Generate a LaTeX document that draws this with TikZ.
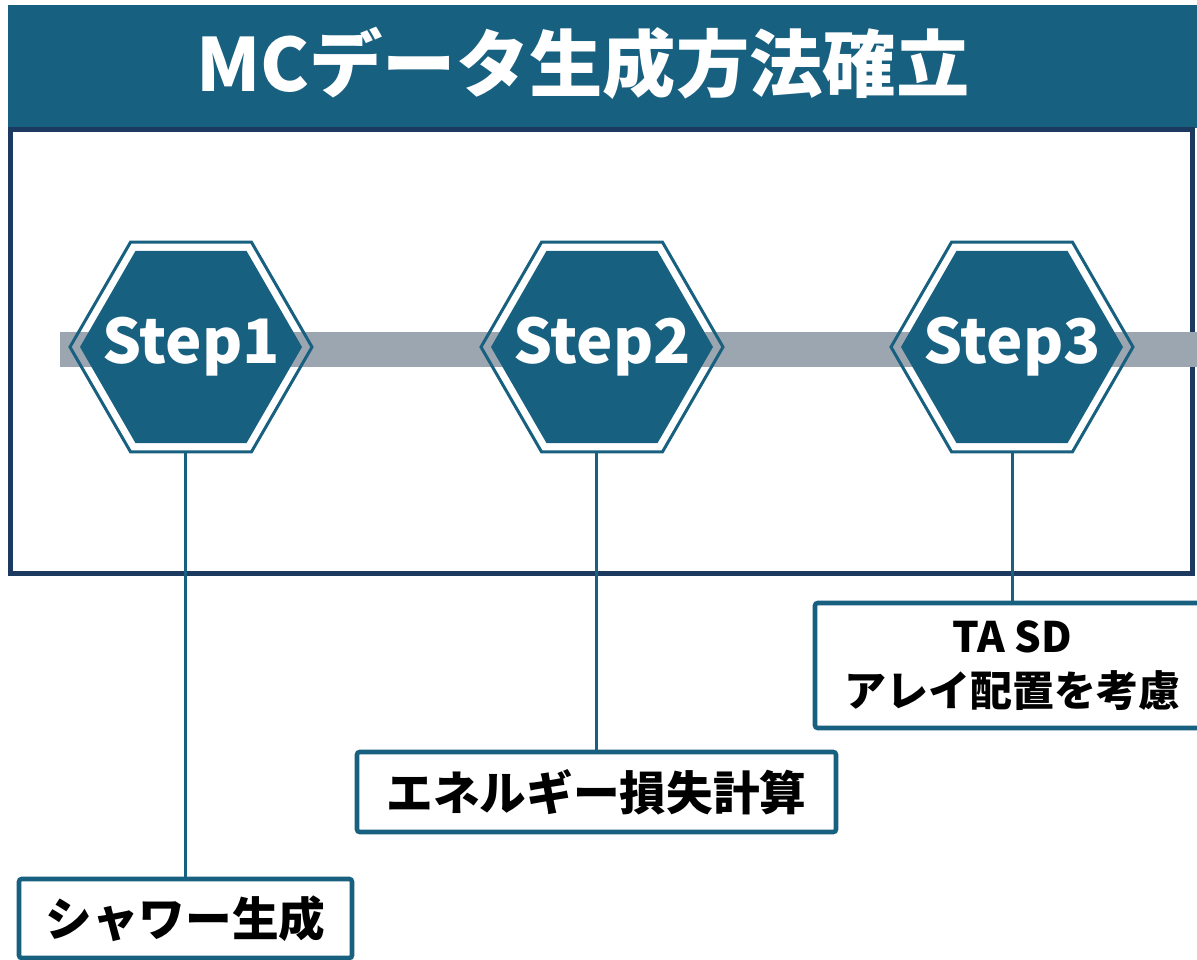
\documentclass[tikz,border=0pt]{standalone}
\usepackage{fontspec}
\setmainfont{Noto Sans CJK JP}
\usetikzlibrary{shapes.geometric}
\definecolor{teal1}{RGB}{24,96,128}
\definecolor{navy1}{RGB}{28,58,95}
\definecolor{band1}{RGB}{156,166,176}
\tikzset{
  hexout/.style={regular polygon, regular polygon sides=6, draw=teal1, line width=2.25pt, minimum size=181.5pt, inner sep=0pt, outer sep=0pt},
  hexin/.style={regular polygon, regular polygon sides=6, fill=teal1, minimum size=166.5pt, inner sep=0pt, outer sep=0pt},
  steptext/.style={text=white, inner sep=0pt, font=\fontsize{46pt}{52pt}\selectfont\bfseries},
  labelbox/.style={draw=teal1, fill=white, line width=3.4pt, rounded corners=2pt, inner sep=0pt, align=center, text=black, font=\fontsize{35pt}{40pt}\selectfont\bfseries},
  conn/.style={draw=teal1, line width=2.25pt}
}
\begin{document}
\begin{tikzpicture}[x=0.75pt,y=-0.75pt]
\clip (0,0) rectangle (1197,960);
\fill[white] (0,0) rectangle (1197,960);
% title bar
\fill[teal1] (8,5) rectangle (1197,128);
\node[text=white, font=\fontsize{55pt}{60pt}\selectfont\bfseries] (title) at (583,63) {MCデータ生成方法確立};
% main box
\draw[navy1, line width=3.75pt] (10,129) rectangle (1192,573);
% band
\fill[band1] (60,332) rectangle (1200,367);
% hexagons
\node[hexout] (s1o) at (191,347) {};
\node[hexin] (s1) at (191,347) {};
\node[steptext] (t1) at (s1) {Step1};
\node[hexout] (s2o) at (602,347) {};
\node[hexin] (s2) at (602,347) {};
\node[steptext] (t2) at (s2) {Step2};
\node[hexout] (s3o) at (1012,347) {};
\node[hexin] (s3) at (1012,347) {};
\node[steptext] (t3) at (s3) {Step3};
% label boxes
\node[labelbox, minimum width=249.75pt, minimum height=59.25pt] (b1) at (185.5,918.5) {シャワー生成};
\node[labelbox, minimum width=359.25pt, minimum height=60pt] (b2) at (596.5,792) {エネルギー損失計算};
\node[labelbox, minimum width=296.25pt, minimum height=93.75pt, font=\fontsize{31.5pt}{40pt}\selectfont\bfseries] (b3) at (1012.5,665.5) {TA SD\\アレイ配置を考慮};
% connectors
\draw[conn] (b1.north |- s1o.south) -- (b1.north);
\draw[conn] (b2.north |- s2o.south) -- (b2.north);
\draw[conn] (b3.north |- s3o.south) -- (b3.north);
\end{tikzpicture}
\end{document}
